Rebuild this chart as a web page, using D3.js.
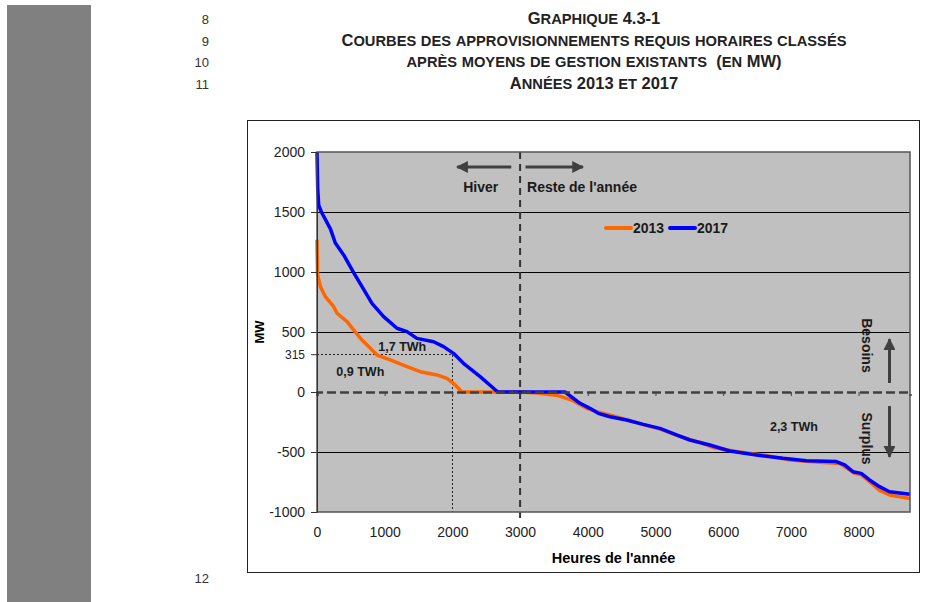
<!DOCTYPE html>
<html>
<head>
<meta charset="utf-8">
<script src="https://cdn.jsdelivr.net/npm/d3@7"></script>
<style>
  body { margin: 0; background: #fff; }
  text { font-family: "Liberation Sans", Arial, sans-serif; }
</style>
</head>
<body>
<svg id="chart" width="925" height="602"></svg>
<script>

// courbe 2013 (heures classées, MW)
var heures2013 = [0, 8, 50, 124, 246, 296, 444, 541, 665, 788, 886, 1083, 1329, 1525, 1771, 1919, 2016, 2090, 2140, 3000, 3246, 3560, 3762, 3983, 4155, 4350, 4573, 4819, 5065, 5311, 5655, 5851, 6245, 6639, 6982, 7425, 7720, 7818, 7941, 8040, 8162, 8310, 8457, 8760];
var mw2013 = [1270, 980, 878, 794, 711, 656, 586, 517, 433, 364, 308, 267, 211, 169, 142, 114, 72, 31, 0, 0, -8, -30, -67, -136, -168, -196, -230, -272, -308, -362, -420, -462, -500, -530, -566, -585, -595, -632, -678, -690, -748, -820, -858, -888];

// courbe 2017
var heures2017 = [0, 10, 25, 65, 198, 271, 394, 541, 665, 812, 984, 1181, 1329, 1476, 1722, 1870, 2016, 2164, 2410, 2582, 2670, 3000, 3664, 3885, 4032, 4155, 4327, 4573, 4819, 5065, 5311, 5507, 5802, 6097, 6491, 6884, 7228, 7671, 7794, 7916, 8039, 8162, 8310, 8457, 8760];
var mw2017 = [2000, 1700, 1558, 1500, 1360, 1242, 1142, 994, 878, 739, 628, 531, 503, 447, 419, 378, 322, 239, 128, 44, 0, 0, 0, -94, -136, -178, -206, -233, -270, -303, -358, -400, -442, -492, -525, -553, -572, -580, -608, -664, -678, -733, -789, -831, -852];

var xTicks = [0, 1000, 2000, 3000, 4000, 5000, 6000, 7000, 8000];
var yTicks = [-1000, -500, 0, 315, 500, 1000, 1500, 2000];
var gridValues = [-500, 500, 1000, 1500];
var lineNumbers = ["8", "9", "10", "11"];
var titleLines = ["Graphique 4.3-1", "Courbes des approvisionnements requis horaires classés", "après moyens de gestion existants  (en MW)", "Années 2013 et 2017"];

const svg = d3.select("#chart");

// bande grise de la page
svg.append("rect").attr("x", 7).attr("y", 5).attr("width", 84).attr("height", 597).attr("fill", "#808080");

// petites capitales faites a la main
function smallCaps(sel, str) {
    var runs = [];
    for (var c of str) {
        var small = c !== c.toUpperCase();
        if (runs.length && runs[runs.length - 1].small == small) runs[runs.length - 1].t += c;
        else runs.push({small: small, t: c});
    }
    sel.selectAll("tspan").data(runs).join("tspan")
        .attr("font-size", d => d.small ? 14.7 : 16.5)
        .style("white-space", "pre")
        .text(d => d.t.toUpperCase());
}

// numeros de ligne + titre
lineNumbers.forEach(function(n, i) {
    svg.append("text").attr("x", 209).attr("y", 24 + i * 21.7).attr("text-anchor", "end")
        .attr("font-size", 13).attr("fill", "#333").text(n);
    var t = svg.append("text").attr("x", 594).attr("y", 24 + i * 21.7).attr("text-anchor", "middle")
        .attr("font-weight", "bold").attr("fill", "#222").style("white-space", "pre");
    smallCaps(t, titleLines[i]);
});
svg.append("text").attr("x", 209).attr("y", 583).attr("text-anchor", "end")
    .attr("font-size", 13).attr("fill", "#333").text("12");

// cadre du graphique
svg.append("rect").attr("x", 247.5).attr("y", 120.5).attr("width", 672).attr("height", 452)
    .attr("fill", "#fff").attr("stroke", "#222").attr("stroke-width", 1);

const pLeft = 317, pRight = 910, pTop = 152, pBottom = 512;

const x = d3.scaleLinear().domain([0, 8760]).range([pLeft, pRight]);
const y = d3.scaleLinear().domain([-1000, 2000]).range([pBottom, pTop]);

svg.append("rect").attr("x", pLeft).attr("y", pTop).attr("width", pRight - pLeft).attr("height", pBottom - pTop)
    .attr("fill", "#C0C0C0");

// grille
svg.append("g").selectAll("line").data(gridValues).join("line")
    .attr("x1", pLeft).attr("x2", pRight)
    .attr("y1", d => Math.round(y(d)) + 0.5).attr("y2", d => Math.round(y(d)) + 0.5)
    .attr("stroke", "#000").attr("stroke-width", 1);

// pointillés 315 MW / 2000 h
svg.append("path")
    .attr("d", "M" + x(0) + "," + (Math.round(y(315)) + 0.5) + "H" + (Math.round(x(2000)) + 0.5) + "V" + y(-1000))
    .attr("fill", "none").attr("stroke", "#222").attr("stroke-width", 1).attr("stroke-dasharray", "2,2");

// courbes
const line = d3.line().x(d => x(d[0])).y(d => y(d[1]));
svg.append("path").datum(d3.zip(heures2013, mw2013)).attr("d", line)
    .attr("fill", "none").attr("stroke", "#FF6600").attr("stroke-width", 3.5).attr("stroke-linejoin", "round");
svg.append("path").datum(d3.zip(heures2017, mw2017)).attr("d", line)
    .attr("fill", "none").attr("stroke", "#0000FF").attr("stroke-width", 3.5).attr("stroke-linejoin", "round");

// axe a zero (tirets)
const zeroAxis = svg.append("g").attr("transform", "translate(0," + y(0) + ")")
    .call(d3.axisBottom(x).tickValues(xTicks).tickSize(4).tickFormat(""));
zeroAxis.select(".domain").attr("stroke", "#404040").attr("stroke-width", 2.5).attr("stroke-dasharray", "9,4");
zeroAxis.selectAll(".tick line").attr("stroke", "#404040");

// ligne verticale hiver / reste de l'année
svg.append("line").attr("x1", x(3000)).attr("x2", x(3000)).attr("y1", pTop).attr("y2", pBottom + 6)
    .attr("stroke", "#333").attr("stroke-width", 2).attr("stroke-dasharray", "7,5");

// bordure zone de tracé
svg.append("rect").attr("x", pLeft).attr("y", pTop).attr("width", pRight - pLeft).attr("height", pBottom - pTop)
    .attr("fill", "none").attr("stroke", "#555").attr("stroke-width", 1.5);

// axe Y
const yAxis = svg.append("g").attr("transform", "translate(" + pLeft + ",0)")
    .call(d3.axisLeft(y).tickValues(yTicks).tickSize(6).tickPadding(6).tickFormat(d => String(d)));
yAxis.select(".domain").attr("stroke", "#333");
yAxis.selectAll(".tick line").attr("stroke", "#333");
yAxis.selectAll("text").attr("font-size", 14).attr("fill", "#222").style("font-family", "Liberation Sans, Arial, sans-serif");
yAxis.selectAll(".tick").filter(d => d == 315).select("text").attr("font-size", 12);

// axe X (étiquettes en bas)
const xAxis = svg.append("g").attr("transform", "translate(0," + pBottom + ")")
    .call(d3.axisBottom(x).tickValues(xTicks).tickSize(0).tickPadding(15).tickFormat(d => String(d)));
xAxis.select(".domain").remove();
xAxis.selectAll("text").attr("font-size", 14).attr("fill", "#222").style("font-family", "Liberation Sans, Arial, sans-serif");

// titres d'axes
svg.append("text").attr("x", (pLeft + pRight) / 2).attr("y", 563).attr("text-anchor", "middle")
    .attr("font-size", 14.5).attr("font-weight", "bold").text("Heures de l'année");
svg.append("text").attr("transform", "translate(264," + y(500) + ") rotate(-90)").attr("text-anchor", "middle")
    .attr("font-size", 13).attr("font-weight", "bold").text("MW");

// fleches
svg.append("defs").append("marker").attr("id", "head").attr("viewBox", "0 0 10 10")
    .attr("refX", 9).attr("refY", 5).attr("markerWidth", 4).attr("markerHeight", 4)
    .attr("markerUnits", "strokeWidth").attr("orient", "auto")
    .append("path").attr("d", "M0,0L10,5L0,10Z").attr("fill", "#404040");

function arrow(x1, y1, x2, y2) {
    svg.append("line").attr("x1", x(x1)).attr("y1", y(y1)).attr("x2", x(x2)).attr("y2", y(y2))
        .attr("stroke", "#404040").attr("stroke-width", 3).attr("marker-end", "url(#head)");
}
arrow(2870, 1875, 2070, 1875);
arrow(3080, 1875, 3930, 1875);
arrow(8457, 75, 8457, 440);
arrow(8457, -117, 8457, -540);

function label(t, hx, v, size, rot) {
    var g = svg.append("text").attr("font-size", size).attr("font-weight", "bold").attr("fill", "#1a1a1a")
        .attr("dominant-baseline", "central").text(t);
    if (rot) g.attr("transform", "translate(" + x(hx) + "," + y(v) + ") rotate(" + rot + ")").attr("text-anchor", "middle");
    else g.attr("x", x(hx)).attr("y", y(v));
    return g;
}
label("Hiver", 2160, 1710, 14);
label("Reste de l'année", 3103, 1710, 14);
label("1,7 TWh", 1260, 375, 12.5).attr("text-anchor", "middle");
label("0,9 TWh", 640, 167, 12.5).attr("text-anchor", "middle");
label("2,3 TWh", 7045, -292, 12.5).attr("text-anchor", "middle");
label("Besoins", 8130, 388, 14, 90);
label("Surplus", 8130, -388, 14, 90);

// légende
var legend = [["2013", "#FF6600", 606], ["2017", "#0000FF", 670]];
legend.forEach(function(l) {
    svg.append("line").attr("x1", l[2]).attr("x2", l[2] + 25).attr("y1", 228).attr("y2", 228)
        .attr("stroke", l[1]).attr("stroke-width", 4).attr("stroke-linecap", "round");
    svg.append("text").attr("x", l[2] + 27).attr("y", 228).attr("dominant-baseline", "central")
        .attr("font-size", 14).attr("font-weight", "bold").attr("fill", "#1a1a1a").text(l[0]);
});

</script>
</body>
</html>
